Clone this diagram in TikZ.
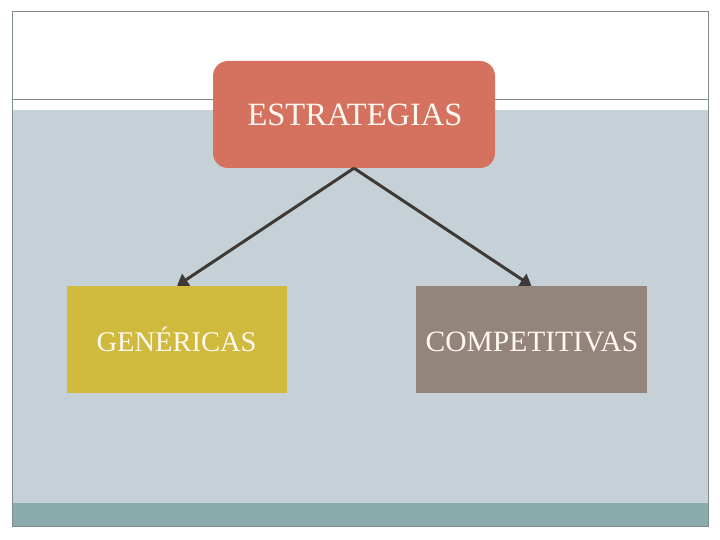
\documentclass[tikz,border=0pt]{standalone}
\usepackage{fontspec}
\setmainfont{Liberation Serif}
\usetikzlibrary{arrows.meta}
\definecolor{bgblue}{HTML}{C5D1D7}
\definecolor{bandteal}{HTML}{8AACAC}
\definecolor{framegray}{HTML}{7F8C8D}
\definecolor{redbox}{HTML}{D4725F}
\definecolor{yellowbox}{HTML}{CFBA3E}
\definecolor{brownbox}{HTML}{93857B}
\definecolor{arrowcol}{HTML}{3F3A36}
\definecolor{txtcol}{HTML}{FFF8F0}
\tikzset{
  box/.style={draw=none, inner sep=0pt, text=txtcol, text depth=0pt},
  conn/.style={draw=arrowcol, line width=3pt, -{Triangle[length=11pt,width=14pt]}}
}
\begin{document}
\begin{tikzpicture}[x=1pt,y=-1pt]
\useasboundingbox (0,0) rectangle (720,540);
\fill[white] (0,0) rectangle (720,540);
\fill[bgblue] (12,110) rectangle (708,503);
\fill[bandteal] (12,503) rectangle (708,526);
\draw[framegray, line width=1pt] (12,12) rectangle (708,526);
\draw[framegray, line width=1pt] (12,100) -- (708,100);
\node[box, fill=redbox, rounded corners=15pt, minimum width=282pt, minimum height=107pt] (s) at (354,114.5) {};
\node[box, text height=21pt, font=\fontsize{32.5}{36}\selectfont] (st) at (355,115) {ESTRATEGIAS};
\node[box, fill=yellowbox, minimum width=220pt, minimum height=107pt] (g) at (177,339.5) {};
\node[box, text height=20pt, font=\fontsize{28.5}{32}\selectfont] (gt) at (176.5,341) {GENÉRICAS};
\node[box, fill=brownbox, minimum width=231pt, minimum height=107pt] (c) at (531.5,339.5) {};
\node[box, text height=20pt, font=\fontsize{29.5}{33}\selectfont] (ct) at (532,341) {COMPETITIVAS};
\draw[conn] (s.south) -- (g.north);
\draw[conn] (s.south) -- (c.north);
\end{tikzpicture}
\end{document}
